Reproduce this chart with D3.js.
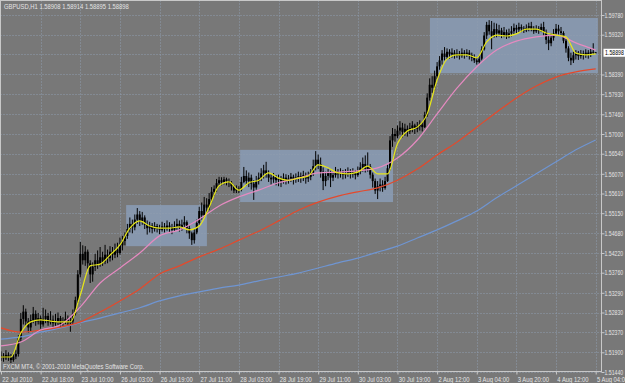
<!DOCTYPE html>
<html>
<head>
<meta charset="utf-8">
<script src="https://cdn.jsdelivr.net/npm/d3@7"></script>
<style>
  body { margin: 0; background: #787878; }
  svg { display: block; }
  text { font-family: "Liberation Sans", Arial, sans-serif; font-size: 7.5px; fill: #e4e4e4; }
</style>
</head>
<body>
<svg id="chart"></svg>
<script>
// ---- data ----
const symbolTitle = "GBPUSD,H1  1.58908 1.58914 1.58895 1.58898";
const copyright = "FXCM MT4, \u00a9 2001-2010 MetaQuotes Software Corp.";
const currentPrice = 1.58898;
const lastOpen = 1.58908;

const xLabels = ["22 Jul 2010", "22 Jul 18:00", "23 Jul 10:00", "26 Jul 03:00", "26 Jul 19:00",
  "27 Jul 11:00", "28 Jul 03:00", "28 Jul 19:00", "29 Jul 11:00", "30 Jul 03:00", "30 Jul 19:00",
  "2 Aug 12:00", "3 Aug 04:00", "3 Aug 20:00", "4 Aug 12:00", "5 Aug 04:00"];
const xTickBars = [0, 16, 32, 48, 64, 80, 96, 112, 128, 144, 160, 176, 192, 208, 224, 240];

const yTicks = [1.51440, 1.51900, 1.52370, 1.52830, 1.53290, 1.53760, 1.54220, 1.54680, 1.55150,
  1.55610, 1.56070, 1.56540, 1.57000, 1.57460, 1.57930, 1.58390, 1.58860, 1.59320, 1.59780];

// hourly bars (open = previous close)
const closes = [
  1.5182,1.5176,1.5184,1.5178,1.5172,1.5180,1.5186,1.5222,1.5268,1.5285,
  1.5262,1.5248,1.5265,1.5280,1.5262,1.5270,1.5255,1.5268,1.5275,1.5260,
  1.5266,1.5258,1.5262,1.5270,1.5256,1.5262,1.5268,1.5258,1.5262,1.5280,
  1.5312,1.5372,1.5420,1.5405,1.5425,1.5398,1.5372,1.5390,1.5405,1.5395,
  1.5412,1.5402,1.5418,1.5410,1.5425,1.5418,1.5430,1.5422,1.5440,1.5450,
  1.5462,1.5478,1.5490,1.5482,1.5500,1.5512,1.5496,1.5505,1.5488,1.5480,
  1.5486,1.5478,1.5485,1.5480,1.5476,1.5484,1.5478,1.5486,1.5482,1.5476,
  1.5484,1.5490,1.5482,1.5488,1.5494,1.5480,1.5468,1.5452,1.5470,1.5492,
  1.5520,1.5510,1.5535,1.5528,1.5548,1.5565,1.5572,1.5585,1.5592,1.5588,
  1.5594,1.5590,1.5586,1.5578,1.5568,1.5572,1.5570,1.5588,1.5602,1.5590,
  1.5598,1.5584,1.5575,1.5590,1.5598,1.5608,1.5615,1.5605,1.5598,1.5594,
  1.5600,1.5592,1.5596,1.5590,1.5598,1.5592,1.5596,1.5600,1.5594,1.5598,
  1.5602,1.5598,1.5604,1.5596,1.5600,1.5610,1.5625,1.5640,1.5630,1.5612,
  1.5590,1.5602,1.5610,1.5598,1.5604,1.5612,1.5606,1.5610,1.5604,1.5608,
  1.5612,1.5606,1.5610,1.5604,1.5612,1.5622,1.5630,1.5618,1.5625,1.5605,
  1.5590,1.5568,1.5578,1.5582,1.5574,1.5590,1.5620,1.5685,1.5700,1.5695,
  1.5708,1.5715,1.5705,1.5712,1.5706,1.5714,1.5720,1.5712,1.5718,1.5722,
  1.5716,1.5745,1.5785,1.5815,1.5808,1.5835,1.5858,1.5872,1.5888,1.5880,
  1.5892,1.5886,1.5890,1.5884,1.5888,1.5882,1.5890,1.5886,1.5890,1.5884,
  1.5878,1.5872,1.5868,1.5876,1.5898,1.5930,1.5955,1.5940,1.5930,1.5945,
  1.5935,1.5942,1.5930,1.5938,1.5928,1.5935,1.5940,1.5948,1.5944,1.5950,
  1.5946,1.5942,1.5948,1.5952,1.5946,1.5940,1.5946,1.5942,1.5950,1.5938,
  1.5920,1.5912,1.5925,1.5935,1.5946,1.5940,1.5936,1.5918,1.5900,1.5878,
  1.5872,1.5884,1.5890,1.5882,1.5888,1.5884,1.5890,1.5886,1.5892,1.58908,
  1.58898];
const highs = [
  1.5192,1.5188,1.5195,1.5190,1.5186,1.5189,1.5196,1.5230,1.5282,1.5300,
  1.5292,1.5270,1.5278,1.5296,1.5288,1.5282,1.5276,1.5294,1.5290,1.5282,
  1.5286,1.5276,1.5280,1.5283,1.5275,1.5272,1.5285,1.5276,1.5272,1.5290,
  1.5320,1.5382,1.5448,1.5440,1.5438,1.5430,1.5405,1.5400,1.5420,1.5428,
  1.5436,1.5425,1.5441,1.5430,1.5438,1.5436,1.5444,1.5446,1.5458,1.5462,
  1.5470,1.5490,1.5505,1.5500,1.5512,1.5527,1.5520,1.5518,1.5510,1.5498,
  1.5495,1.5492,1.5494,1.5490,1.5488,1.5495,1.5492,1.5498,1.5494,1.5490,
  1.5496,1.5502,1.5498,1.5500,1.5508,1.5498,1.5486,1.5472,1.5478,1.5500,
  1.5530,1.5540,1.5553,1.5550,1.5562,1.5576,1.5580,1.5595,1.5600,1.5599,
  1.5600,1.5598,1.5596,1.5590,1.5580,1.5580,1.5578,1.5600,1.5623,1.5615,
  1.5610,1.5605,1.5592,1.5602,1.5610,1.5620,1.5628,1.5635,1.5615,1.5606,
  1.5609,1.5604,1.5605,1.5602,1.5608,1.5606,1.5604,1.5609,1.5605,1.5608,
  1.5612,1.5610,1.5614,1.5610,1.5612,1.5618,1.5640,1.5660,1.5652,1.5645,
  1.5622,1.5612,1.5618,1.5614,1.5612,1.5623,1.5618,1.5620,1.5616,1.5618,
  1.5622,1.5618,1.5620,1.5616,1.5624,1.5634,1.5645,1.5650,1.5657,1.5630,
  1.5610,1.5596,1.5590,1.5596,1.5592,1.5600,1.5628,1.5695,1.5714,1.5712,
  1.5720,1.5730,1.5726,1.5724,1.5720,1.5726,1.5730,1.5724,1.5728,1.5732,
  1.5728,1.5752,1.5795,1.5830,1.5835,1.5848,1.5868,1.5882,1.5896,1.5903,
  1.5900,1.5898,1.5900,1.5896,1.5898,1.5894,1.5900,1.5896,1.5898,1.5896,
  1.5890,1.5886,1.5880,1.5884,1.5905,1.5938,1.5962,1.5966,1.5964,1.5960,
  1.5958,1.5955,1.5948,1.5950,1.5944,1.5946,1.5952,1.5958,1.5955,1.5960,
  1.5956,1.5952,1.5956,1.5960,1.5962,1.5952,1.5954,1.5952,1.5958,1.5962,
  1.5944,1.5930,1.5935,1.5945,1.5957,1.5955,1.5950,1.5940,1.5922,1.5905,
  1.5890,1.5892,1.5896,1.5894,1.5896,1.5895,1.5898,1.5896,1.5900,1.5912,
  1.58914];
const lows = [
  1.5170,1.5168,1.5172,1.5170,1.5165,1.5168,1.5174,1.5180,1.5215,1.5255,
  1.5250,1.5236,1.5240,1.5258,1.5252,1.5255,1.5245,1.5250,1.5258,1.5252,
  1.5255,1.5248,1.5252,1.5254,1.5250,1.5252,1.5256,1.5250,1.5238,1.5255,
  1.5276,1.5305,1.5365,1.5395,1.5392,1.5385,1.5352,1.5355,1.5380,1.5385,
  1.5390,1.5392,1.5396,1.5398,1.5402,1.5405,1.5410,1.5412,1.5418,1.5428,
  1.5440,1.5455,1.5470,1.5468,1.5475,1.5490,1.5485,1.5488,1.5478,1.5465,
  1.5470,1.5468,1.5472,1.5470,1.5466,1.5472,1.5470,1.5474,1.5470,1.5466,
  1.5472,1.5476,1.5472,1.5474,1.5478,1.5468,1.5455,1.5441,1.5444,1.5466,
  1.5488,1.5500,1.5505,1.5515,1.5522,1.5540,1.5555,1.5565,1.5578,1.5580,
  1.5582,1.5580,1.5576,1.5568,1.5562,1.5562,1.5562,1.5566,1.5585,1.5580,
  1.5576,1.5570,1.5546,1.5570,1.5582,1.5590,1.5596,1.5598,1.5588,1.5582,
  1.5586,1.5580,1.5578,1.5576,1.5584,1.5582,1.5584,1.5588,1.5582,1.5586,
  1.5588,1.5586,1.5590,1.5584,1.5588,1.5592,1.5602,1.5615,1.5618,1.5598,
  1.5569,1.5578,1.5592,1.5576,1.5590,1.5598,1.5596,1.5598,1.5594,1.5596,
  1.5600,1.5596,1.5598,1.5594,1.5600,1.5606,1.5612,1.5610,1.5612,1.5596,
  1.5575,1.5560,1.5548,1.5566,1.5565,1.5570,1.5588,1.5615,1.5670,1.5682,
  1.5690,1.5698,1.5692,1.5696,1.5694,1.5700,1.5704,1.5700,1.5704,1.5708,
  1.5706,1.5714,1.5740,1.5778,1.5796,1.5802,1.5828,1.5850,1.5862,1.5872,
  1.5875,1.5876,1.5878,1.5876,1.5878,1.5874,1.5878,1.5876,1.5880,1.5874,
  1.5870,1.5866,1.5862,1.5864,1.5872,1.5895,1.5922,1.5932,1.5898,1.5925,
  1.5926,1.5928,1.5924,1.5926,1.5922,1.5924,1.5928,1.5932,1.5936,1.5938,
  1.5938,1.5936,1.5938,1.5940,1.5940,1.5934,1.5936,1.5934,1.5938,1.5930,
  1.5910,1.5896,1.5905,1.5918,1.5930,1.5932,1.5928,1.5912,1.5890,1.5870,
  1.5861,1.5866,1.5874,1.5873,1.5876,1.5874,1.5878,1.5876,1.5880,1.5886,
  1.58895];

// moving averages, read every 4 bars (yellow) and every 8 bars (the others)
const yellowMA = [1.5179,1.5179,1.5235,1.5261,1.5266,1.5263,1.5261,1.5261,1.5324,1.5392,
  1.5396,1.5417,1.5441,1.5480,1.5497,1.5485,1.5480,1.5480,1.5483,1.5476,
  1.5485,1.5529,1.5579,1.5588,1.5569,1.5586,1.5592,1.5609,1.5597,1.5592,
  1.5597,1.5602,1.5628,1.5621,1.5609,1.5607,1.5611,1.5625,1.5607,1.5607,
  1.5677,1.5707,1.5716,1.5747,1.5826,1.5875,1.5885,1.5885,1.5878,1.5915,
  1.5931,1.5929,1.5934,1.5945,1.5945,1.5936,1.5931,1.5927,1.5889,1.5885,1.5887];
const pinkMA = [1.5205,1.5214,1.5242,1.5254,1.5296,1.5352,1.5387,1.5422,1.5462,1.5476,
  1.5501,1.5532,1.5553,1.5569,1.5586,1.5597,1.5609,1.5611,1.5614,1.5621,
  1.5644,1.5686,1.5747,1.5807,1.5857,1.5896,1.5917,1.5927,1.5931,1.5913,1.5896];
const redMA = [1.5247,1.5237,1.5242,1.5249,1.5261,1.5284,1.5310,1.5338,1.5373,1.5392,
  1.5413,1.5431,1.5452,1.5473,1.5497,1.5522,1.5541,1.5555,1.5565,1.5574,
  1.5592,1.5618,1.5651,1.5681,1.5716,1.5751,1.5784,1.5812,1.5833,1.5845,1.5852];
const blueMA = [1.5221,1.5226,1.5237,1.5247,1.5259,1.5270,1.5282,1.5294,1.5310,1.5322,
  1.5331,1.5340,1.5347,1.5357,1.5366,1.5375,1.5387,1.5399,1.5410,1.5424,
  1.5438,1.5457,1.5476,1.5497,1.5520,1.5551,1.5579,1.5607,1.5635,1.5663,1.5686];

// consolidation rectangles: bar index and price corners
const boxStart = [50.5, 96.5, 173.1];
const boxEnd = [83.1, 158.2, 240.9];
const boxTop = [1.5534, 1.5663, 1.5971];
const boxBottom = [1.5438, 1.5541, 1.5842];

// ---- drawing ----
const W = 625, H = 383;
const frame = { left: 0.5, right: 601.5, top: 0.5, bottom: 371.5 };
const squeeze = 'scale(0.78,1)';
const squeezeAxis = 'scale(0.74,1)';

const svg = d3.select('#chart').attr('width', W).attr('height', H);

const x = d3.scaleLinear().domain([0, 240]).range([1, 595.7]);
const y = d3.scaleLinear().domain([1.5144, 1.5978]).range([372, 15]);

svg.append('rect').attr('width', W).attr('height', H).attr('fill', '#787878');

// rectangles behind everything
svg.append('g').selectAll('rect')
  .data(d3.range(boxStart.length))
  .join('rect')
  .attr('x', i => x(boxStart[i]))
  .attr('y', i => y(boxTop[i]))
  .attr('width', i => x(boxEnd[i]) - x(boxStart[i]))
  .attr('height', i => y(boxBottom[i]) - y(boxTop[i]))
  .attr('fill', '#8797ad');

// dotted grid
const grid = svg.append('g').attr('stroke', '#8f9cae').attr('stroke-dasharray', '1,2').attr('stroke-width', 1);
grid.selectAll('line.h').data(yTicks).join('line')
  .attr('class', 'h')
  .attr('x1', frame.left).attr('x2', frame.right)
  .attr('y1', d => Math.round(y(d)) + 0.5).attr('y2', d => Math.round(y(d)) + 0.5);
grid.selectAll('line.v').data(xTickBars.slice(1)).join('line')
  .attr('class', 'v')
  .attr('y1', frame.top).attr('y2', frame.bottom)
  .attr('x1', d => Math.round(x(d)) + 0.5).attr('x2', d => Math.round(x(d)) + 0.5);

// candles
const opens = closes.map((c, i) => i === 0 ? c : closes[i - 1]);
opens[opens.length - 1] = lastOpen;
const candles = svg.append('g');
candles.selectAll('line').data(closes).join('line')
  .attr('x1', (d, i) => x(i)).attr('x2', (d, i) => x(i))
  .attr('y1', (d, i) => y(highs[i])).attr('y2', (d, i) => y(lows[i]))
  .attr('stroke', '#000').attr('stroke-width', 1);
candles.selectAll('rect').data(closes).join('rect')
  .attr('x', (d, i) => x(i) - 1)
  .attr('width', 2)
  .attr('y', (d, i) => y(Math.max(opens[i], d)))
  .attr('height', (d, i) => Math.max(1, Math.abs(y(opens[i]) - y(d))))
  .attr('fill', '#000');

// moving averages
function maLine(values, step, color) {
  const line = d3.line()
    .x((d, i) => x(i * step))
    .y(d => y(d))
    .curve(d3.curveMonotoneX);
  svg.append('path')
    .datum(values)
    .attr('fill', 'none')
    .attr('stroke', color)
    .attr('stroke-width', 1.2)
    .attr('d', line);
}
maLine(blueMA, 8, '#6f95d2');
maLine(redMA, 8, '#e5492b');
maLine(pinkMA, 8, '#e58ac0');
maLine(yellowMA, 4, '#e6e619');

// frame
svg.append('rect')
  .attr('x', frame.left).attr('y', frame.top)
  .attr('width', frame.right - frame.left).attr('height', frame.bottom - frame.top)
  .attr('fill', 'none').attr('stroke', '#c8c8c8');

// price axis on the right
const yAxis = d3.axisRight(y)
  .tickValues(yTicks.filter(v => Math.abs(v - currentPrice) > 0.001))
  .tickFormat(d => d.toFixed(5))
  .tickSize(3).tickPadding(1);
const yAxisG = svg.append('g').attr('transform', `translate(${frame.right},0)`).call(yAxis);
yAxisG.select('.domain').remove();
yAxisG.selectAll('line').attr('stroke', '#c8c8c8');
yAxisG.selectAll('text').attr('transform', squeezeAxis).attr('fill', '#e4e4e4')
  .style('font-size', '7px').style('font-family', '"Liberation Sans", Arial, sans-serif');

// current price marker
const cp = svg.append('g').attr('transform', `translate(${frame.right + 1},${y(currentPrice)})`);
cp.append('rect').attr('x', 1).attr('y', -4).attr('width', 22).attr('height', 8).attr('fill', '#ffffff');
cp.append('text').attr('x', 3.5).attr('dy', '0.32em').attr('transform', squeezeAxis)
  .style('fill', '#000').style('font-size', '7px').text(currentPrice.toFixed(5));

// time axis at the bottom
const xAxis = d3.axisBottom(x)
  .tickValues(xTickBars)
  .tickFormat((d, i) => xLabels[i])
  .tickSize(3).tickPadding(2);
const xAxisG = svg.append('g').attr('transform', `translate(0,${frame.bottom})`).call(xAxis);
xAxisG.select('.domain').remove();
xAxisG.selectAll('line').attr('stroke', '#c8c8c8');
xAxisG.selectAll('text')
  .attr('text-anchor', 'start')
  .attr('x', 1)
  .attr('transform', squeeze)
  .attr('fill', '#e4e4e4')
  .style('font-size', '7.5px').style('font-family', '"Liberation Sans", Arial, sans-serif');

// title and copyright
svg.append('text').attr('x', 4 / 0.78).attr('y', 9.5).attr('transform', squeeze).text(symbolTitle);
svg.append('text').attr('x', 3 / 0.78).attr('y', 369).attr('transform', squeeze).text(copyright);
</script>
</body>
</html>
